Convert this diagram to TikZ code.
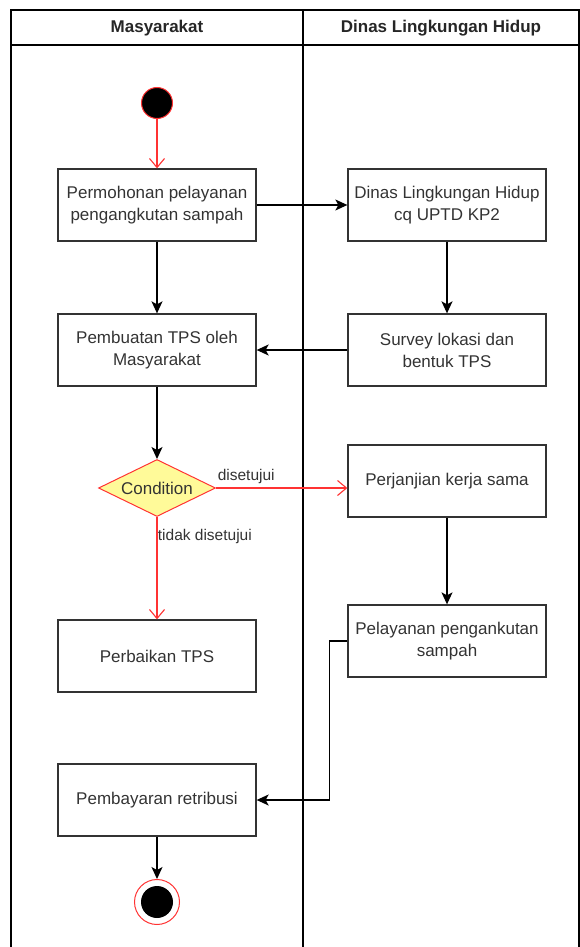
\documentclass[tikz,border=0pt]{standalone}
\usepackage{fontspec}
\setmainfont{Liberation Sans}
\usetikzlibrary{arrows.meta}
\usetikzlibrary{positioning}
\usetikzlibrary{shapes.geometric}
\tikzset{act/.style = {draw = black!80, line width = 1.3pt, minimum width = 198pt, minimum height = 72pt, inner sep = 1pt, align = center, text = black!80, font = \fontsize{17}{22}\selectfont}}
\tikzset{cond/.style = {diamond, aspect = 2, draw = red!80, fill = yellow!40, line width = 1pt, minimum width = 117pt, minimum height = 57pt, inner sep = 0, text = black!80, font = \fontsize{17}{22}\selectfont}}
\tikzset{flow/.style = {line width = 1.3pt, -{Stealth[length = 12pt, width = 11pt, inset = 3pt]}}}
\tikzset{rflow/.style = {line width = 1.1pt, red!80, -{Straight Barb[length = 9pt, width = 15pt]}}}
\tikzset{elabel/.style = {text = black!80, font = \fontsize{15.5}{19}\selectfont}}
\definecolor{mred}{rgb}{1, 0.2, 0.2}

\begin{document}
\begin{tikzpicture}[x = 1pt, y = -1pt]
    \useasboundingbox (0, 0) rectangle (580, 947);

    % lanes
    \draw [line width = 1.3pt] (11, 947) -- (11, 10) -- (579, 10) -- (579, 947);
    \draw [line width = 1.3pt] (11, 45) -- (579, 45);
    \draw [line width = 1.3pt] (303, 10) -- (303, 947);
    \node [font = \bfseries\fontsize{17}{22}\selectfont, text = black!85] at (157, 28) {Masyarakat};
    \node [font = \bfseries\fontsize{17}{22}\selectfont, text = black!85] at (441, 28) {Dinas Lingkungan Hidup};

    \node [circle, fill = black, draw = mred, line width = 1pt, minimum size = 31pt] (start) at (157, 103) {};
    \node [act] (mohon) at (157, 205) {Permohonan pelayanan\\pengangkutan sampah};
    \node [act] (dinas) at (447, 205) {Dinas Lingkungan Hidup\\cq UPTD KP2};
    \node [act] (buat) at (157, 350) {Pembuatan TPS oleh\\Masyarakat};
    \node [act] (survey) at (447, 350) {Survey lokasi dan\\bentuk TPS};
    \node [cond] (condition) at (157, 488) {Condition};
    \node [act] (janji) at (447, 481) {Perjanjian kerja sama};
    \node [act] (perbaikan) at (157, 656) {Perbaikan TPS};
    \node [act] (layan) at (447, 641) {Pelayanan pengankutan\\sampah};
    \node [act] (bayar) at (157, 800) {Pembayaran retribusi};
    \node [circle, draw = mred, line width = 1pt, minimum size = 45pt] (stop) at (157, 902) {};
    \node [circle, fill = black, minimum size = 32pt] (stopin) at (157, 902) {};

    \draw [rflow, mred] (start) -- (mohon);
    \draw [flow] (mohon) -- (dinas);
    \draw [flow] (mohon) -- (buat);
    \draw [flow] (dinas) -- (survey);
    \draw [flow] (survey) -- (buat);
    \draw [flow] (buat) -- (condition);
    \draw [rflow, mred] (condition.east) -- node [elabel, pos = 0.23, above] {disetujui} (condition.east -| janji.west);
    \draw [rflow, mred] (condition) -- node [elabel, pos = 0.19, right, xshift = -3pt] {tidak disetujui} (perbaikan);
    \draw [flow] (janji) -- (layan);
    \draw [flow] (layan.west) -- ++(-18, 0) |- (bayar.east);
    \draw [flow] (bayar) -- (stop);
  \end{tikzpicture}
\end{document}
